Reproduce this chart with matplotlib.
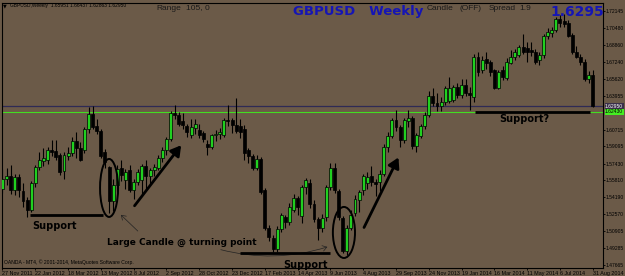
import matplotlib

matplotlib.use("Agg")
import matplotlib.pyplot as plt
from matplotlib.patches import Ellipse

plt.rcParams["font.family"] = ["Liberation Sans", "DejaVu Sans"]

# weekly GBPUSD candles, 27 Nov 2011 .. 31 Aug 2014
OPENS = [
    1.5500, 1.5600, 1.5625, 1.5490, 1.5610, 1.5480, 1.5390, 1.5300, 1.5555, 1.5710,
    1.5765, 1.5780, 1.5875, 1.5868, 1.5827, 1.5670, 1.5820, 1.5850, 1.5960, 1.5890,
    1.5870, 1.6080, 1.6225, 1.6110, 1.6060, 1.5860, 1.5710, 1.5380, 1.5540, 1.5700,
    1.5590, 1.5680, 1.5490, 1.5570, 1.5590, 1.5720, 1.5620, 1.5680, 1.5700, 1.5800,
    1.5870, 1.5985, 1.6230, 1.6210, 1.6150, 1.6110, 1.6020, 1.6085, 1.6070, 1.6040,
    1.5930, 1.5900, 1.6015, 1.6030, 1.6020, 1.6165, 1.6160, 1.6120, 1.6110, 1.6080,
    1.5870, 1.5820, 1.5700, 1.5790, 1.5490, 1.5120, 1.5030, 1.4920, 1.5110, 1.5230,
    1.5180, 1.5300, 1.5410, 1.5235, 1.5520, 1.5560, 1.5350, 1.5205, 1.5120, 1.5230,
    1.5520, 1.5700, 1.5480, 1.5215, 1.4900, 1.5120, 1.5270, 1.5393, 1.5490, 1.5555,
    1.5620, 1.5570, 1.5570, 1.5640, 1.5900, 1.6010, 1.6160, 1.6100, 1.5975, 1.6155,
    1.6185, 1.5910, 1.6010, 1.6110, 1.6210, 1.6400, 1.6330, 1.6300, 1.6340, 1.6350,
    1.6357, 1.6485, 1.6405, 1.6500, 1.6420, 1.6389, 1.6774, 1.6646, 1.6750, 1.6726,
    1.6645, 1.6470, 1.6645, 1.6566, 1.6710, 1.6775, 1.6790, 1.6870, 1.6855, 1.6835,
    1.6823, 1.6742, 1.6790, 1.6970, 1.7000, 1.7036, 1.7133, 1.7117, 1.7100, 1.6984,
    1.6823, 1.6774, 1.6726, 1.6560, 1.6595,
]
HIGHS = [
    1.5690, 1.5700, 1.5730, 1.5640, 1.5640, 1.5560, 1.5420, 1.5580, 1.5730, 1.5860,
    1.5890, 1.5900, 1.5970, 1.5970, 1.5850, 1.5860, 1.5900, 1.6000, 1.6045, 1.5950,
    1.6095, 1.6292, 1.6300, 1.6170, 1.6080, 1.5880, 1.5720, 1.5600, 1.5730, 1.5780,
    1.5690, 1.5730, 1.5600, 1.5690, 1.5740, 1.5780, 1.5700, 1.5740, 1.5830, 1.5900,
    1.6000, 1.6250, 1.6310, 1.6240, 1.6230, 1.6130, 1.6170, 1.6170, 1.6130, 1.6060,
    1.5970, 1.6030, 1.6070, 1.6090, 1.6180, 1.6310, 1.6180, 1.6380, 1.6170, 1.6120,
    1.5890, 1.5840, 1.5830, 1.5810, 1.5510, 1.5150, 1.5060, 1.5140, 1.5270, 1.5250,
    1.5360, 1.5450, 1.5430, 1.5540, 1.5605, 1.5600, 1.5390, 1.5230, 1.5260, 1.5540,
    1.5750, 1.5750, 1.5500, 1.5240, 1.5150, 1.5300, 1.5440, 1.5490, 1.5640, 1.5660,
    1.5720, 1.5600, 1.5680, 1.5930, 1.6050, 1.6180, 1.6260, 1.6120, 1.6180, 1.6260,
    1.6200, 1.6040, 1.6130, 1.6240, 1.6440, 1.6470, 1.6420, 1.6390, 1.6490, 1.6580,
    1.6500, 1.6520, 1.6560, 1.6560, 1.6480, 1.6800, 1.6822, 1.6780, 1.6820, 1.6740,
    1.6660, 1.6650, 1.6680, 1.6760, 1.6840, 1.6850, 1.6890, 1.6996, 1.6920, 1.6920,
    1.6850, 1.6820, 1.6990, 1.7050, 1.7065, 1.7160, 1.7180, 1.7190, 1.7130, 1.7000,
    1.6880, 1.6800, 1.6750, 1.6640, 1.6644,
]
LOWS = [
    1.5460, 1.5540, 1.5450, 1.5440, 1.5420, 1.5330, 1.5233, 1.5280, 1.5520, 1.5680,
    1.5720, 1.5740, 1.5820, 1.5780, 1.5630, 1.5600, 1.5780, 1.5820, 1.5800, 1.5770,
    1.5850, 1.6040, 1.6080, 1.6030, 1.5800, 1.5700, 1.5270, 1.5290, 1.5480, 1.5580,
    1.5500, 1.5470, 1.5400, 1.5540, 1.5440, 1.5500, 1.5550, 1.5620, 1.5680, 1.5760,
    1.5830, 1.5960, 1.6170, 1.6110, 1.6080, 1.6000, 1.5990, 1.6030, 1.5990, 1.5950,
    1.5830, 1.5880, 1.5960, 1.5980, 1.6000, 1.6110, 1.6040, 1.6040, 1.5990, 1.5780,
    1.5750, 1.5680, 1.5680, 1.5450, 1.5100, 1.5000, 1.4890, 1.4895, 1.5080, 1.5120,
    1.5150, 1.5280, 1.5250, 1.5170, 1.5450, 1.5320, 1.5180, 1.5010, 1.5080, 1.5190,
    1.5490, 1.5460, 1.5200, 1.4880, 1.4860, 1.5100, 1.5240, 1.5280, 1.5440, 1.5500,
    1.5530, 1.5430, 1.5480, 1.5620, 1.5860, 1.5990, 1.6060, 1.5900, 1.5940, 1.6100,
    1.5880, 1.5860, 1.5990, 1.6080, 1.6190, 1.6300, 1.6250, 1.6250, 1.6310, 1.6330,
    1.6340, 1.6380, 1.6380, 1.6400, 1.6260, 1.6340, 1.6590, 1.6620, 1.6660, 1.6590,
    1.6460, 1.6460, 1.6550, 1.6550, 1.6700, 1.6740, 1.6770, 1.6800, 1.6720, 1.6780,
    1.6700, 1.6690, 1.6760, 1.6940, 1.6960, 1.7010, 1.7060, 1.7060, 1.6960, 1.6800,
    1.6760, 1.6690, 1.6540, 1.6520, 1.6286,
]
CLOSES = [
    1.5600, 1.5625, 1.5490, 1.5610, 1.5490, 1.5380, 1.5300, 1.5555, 1.5710, 1.5778,
    1.5795, 1.5875, 1.5860, 1.5810, 1.5666, 1.5830, 1.5850, 1.5960, 1.5890, 1.5780,
    1.6080, 1.6225, 1.6100, 1.6060, 1.5820, 1.5760, 1.5380, 1.5540, 1.5690, 1.5630,
    1.5660, 1.5490, 1.5570, 1.5660, 1.5720, 1.5620, 1.5680, 1.5710, 1.5800, 1.5870,
    1.5985, 1.6230, 1.6215, 1.6130, 1.6115, 1.6050, 1.6100, 1.6130, 1.6020, 1.5985,
    1.5900, 1.6015, 1.6030, 1.6045, 1.6160, 1.6150, 1.6120, 1.6060, 1.6050, 1.5850,
    1.5820, 1.5700, 1.5790, 1.5470, 1.5120, 1.5040, 1.4920, 1.5110, 1.5250, 1.5180,
    1.5330, 1.5410, 1.5330, 1.5520, 1.5585, 1.5350, 1.5205, 1.5120, 1.5215, 1.5520,
    1.5700, 1.5490, 1.5230, 1.4900, 1.5120, 1.5250, 1.5400, 1.5473, 1.5620, 1.5618,
    1.5570, 1.5550, 1.5640, 1.5900, 1.6010, 1.6160, 1.6100, 1.5975, 1.6160, 1.6185,
    1.5910, 1.6020, 1.6110, 1.6210, 1.6400, 1.6330, 1.6300, 1.6340, 1.6470, 1.6470,
    1.6485, 1.6405, 1.6500, 1.6420, 1.6405, 1.6774, 1.6630, 1.6742, 1.6710, 1.6630,
    1.6470, 1.6630, 1.6582, 1.6726, 1.6775, 1.6823, 1.6870, 1.6823, 1.6823, 1.6818,
    1.6726, 1.6790, 1.6970, 1.7015, 1.7030, 1.7133, 1.7100, 1.7085, 1.6970, 1.6823,
    1.6774, 1.6726, 1.6560, 1.6598, 1.6295,
]

DATE_LABELS = [
    "27 Nov 2011", "22 Jan 2012", "18 Mar 2012", "13 May 2012", "8 Jul 2012",
    "2 Sep 2012", "28 Oct 2012", "23 Dec 2012", "17 Feb 2013", "14 Apr 2013",
    "9 Jun 2013", "4 Aug 2013", "29 Sep 2013", "24 Nov 2013", "19 Jan 2014",
    "16 Mar 2014", "11 May 2014", "6 Jul 2014", "31 Aug 2014",
]
PRICE_TICKS = [
    1.72145, 1.70480, 1.68860, 1.67240, 1.65620, 1.63955, 1.60715, 1.59095,
    1.57430, 1.55810, 1.54190, 1.52570, 1.50905, 1.49285, 1.47665,
]
BID = 1.62950
GREEN_LEVEL = 1.62430

BG = "#6b5a48"
BULL = "#20d020"
BLUE = "#1515b5"
TXT = "#1a1a1a"

fig = plt.figure(figsize=(6.25, 2.76), dpi=100, facecolor=BG)
ax = fig.add_axes([2 / 625, 1 - 268 / 276, 601 / 625, 265 / 276])
ax.set_facecolor(BG)

n = len(CLOSES)
for i in range(n):
    o, h, l, c = OPENS[i], HIGHS[i], LOWS[i], CLOSES[i]
    ax.vlines(i, l, h, color="black", lw=0.8, zorder=3)
    bottom = min(o, c)
    height = max(abs(c - o), 0.0004)
    ax.bar(i, height, bottom=bottom, width=0.72, color=BULL if c >= o else "black",
           edgecolor="black", linewidth=0.5, zorder=4)

ax.set_xlim(-0.12, 146.5)
ax.set_ylim(1.47375, 1.72916)

# price / level lines
ax.axhline(BID, color="#2e2a55", lw=0.9, zorder=2)
ax.axhline(GREEN_LEVEL, color="#44dd22", lw=0.8, zorder=2)

for side in ("left", "top", "right", "bottom"):
    ax.spines[side].set_color("black")
    ax.spines[side].set_linewidth(0.8)

ax.yaxis.tick_right()
ax.set_yticks(PRICE_TICKS, [f"{t:.5f}" for t in PRICE_TICKS])
ax.tick_params(axis="y", length=1.5, width=0.6, pad=0.5, labelsize=3.6, colors="black")
ax.set_xticks(list(range(0, n, 8)), DATE_LABELS)
ax.tick_params(axis="x", length=1.5, width=0.6, pad=0.6, labelsize=3.9, colors="black")
for lab in ax.get_xticklabels():
    lab.set_horizontalalignment("left")

# highlighted axis labels
ax.text(1.0035, BID, f"{BID:.5f}", transform=ax.get_yaxis_transform(), fontsize=3.6,
        va="center", ha="left", color="white",
        bbox=dict(boxstyle="square,pad=0.1", fc="#3a2f4a", ec="none"))
ax.text(1.0035, GREEN_LEVEL, f"{GREEN_LEVEL:.5f}", transform=ax.get_yaxis_transform(),
        fontsize=3.6, va="center", ha="left", color="black",
        bbox=dict(boxstyle="square,pad=0.1", fc="#44ee22", ec="none"))

# header texts
fig.text(3 / 625, 1 - 6 / 276, "▼", fontsize=3.5, color="black", va="center",
         family="DejaVu Sans")
fig.text(10 / 625, 1 - 6 / 276, "GBPUSD,Weekly  1.65951 1.66437 1.62863 1.62950",
         fontsize=3.5, color="black", va="center")
fig.text(156 / 625, 1 - 8 / 276, "Range", fontsize=6, color=TXT, va="center")
fig.text(186 / 625, 1 - 8 / 276, "105, 0", fontsize=6, color=TXT, va="center")
fig.text(293 / 625, 1 - 12 / 276, "GBPUSD   Weekly", fontsize=9.5, fontweight="bold",
         color=BLUE, va="center", family="DejaVu Sans")
fig.text(427 / 625, 1 - 8 / 276, "Candle", fontsize=6, color=TXT, va="center")
fig.text(459 / 625, 1 - 8 / 276, "(OFF)", fontsize=6, color=TXT, va="center")
fig.text(489 / 625, 1 - 8 / 276, "Spread", fontsize=6, color=TXT, va="center")
fig.text(519 / 625, 1 - 8 / 276, "1.9", fontsize=6, color=TXT, va="center")
fig.text(550 / 625, 1 - 12 / 276, "1.6295", fontsize=10, fontweight="bold",
         color=BLUE, va="center", family="DejaVu Sans")
fig.text(4 / 625, 1 - 262 / 276, "OANDA - MT4, © 2001-2014, MetaQuotes Software Corp.",
         fontsize=3.6, color="black", va="center")

# drawn annotations (bar index, price)
ax.plot([6.7, 24.5], [1.5248, 1.5248], color="black", lw=2, solid_capstyle="butt", zorder=6)
ax.text(12.8, 1.5142, "Support", fontsize=7, fontweight="bold", ha="center", va="center",
        family="DejaVu Sans")
ax.plot([57.9, 79.9], [1.4882, 1.4882], color="black", lw=2, solid_capstyle="butt", zorder=6)
ax.text(73.8, 1.4768, "Support", fontsize=7, fontweight="bold", ha="center", va="center",
        family="DejaVu Sans", zorder=7)
ax.plot([115.2, 143.3], [1.6245, 1.6245], color="black", lw=2, solid_capstyle="butt", zorder=6)
ax.text(127.4, 1.6178, "Support?", fontsize=7, fontweight="bold", ha="center", va="center",
        family="DejaVu Sans")

ax.add_patch(Ellipse((26.0, 1.5509), 4.4, 0.0559, fill=False, ec="black", lw=1.4, zorder=6))
ax.add_patch(Ellipse((83.3, 1.5080), 5.4, 0.0492, fill=False, ec="black", lw=1.4, zorder=6))

ax.annotate("", xy=(44.0, 1.5942), xytext=(31.8, 1.5316),
            arrowprops=dict(arrowstyle="-|>,head_length=0.6,head_width=0.35", color="black",
                            lw=2), zorder=6)
ax.annotate("", xy=(96.9, 1.5827), xytext=(87.9, 1.5104),
            arrowprops=dict(arrowstyle="-|>,head_length=0.6,head_width=0.35", color="black",
                            lw=2), zorder=6)

ax.text(43.8, 1.4988, "Large Candle @ turning point", fontsize=6.5, fontweight="bold",
        ha="center", va="center", family="DejaVu Sans")
ax.annotate("", xy=(28.4, 1.5268), xytext=(33.5, 1.5075),
            arrowprops=dict(arrowstyle="->,head_length=0.3,head_width=0.2", color="#222222",
                            lw=0.5))
ax.annotate("", xy=(79.9, 1.4949), xytext=(52.6, 1.4921),
            arrowprops=dict(arrowstyle="->,head_length=0.3,head_width=0.2", color="#222222",
                            lw=0.5, connectionstyle="arc3,rad=0.15"))

fig.savefig("out.png", dpi=100, facecolor=BG)
